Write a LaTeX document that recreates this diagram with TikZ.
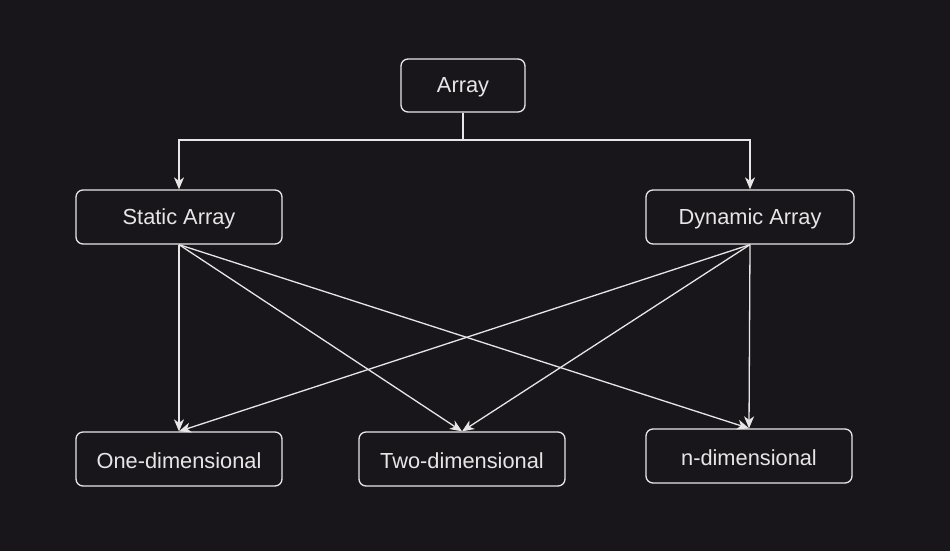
\documentclass[tikz,border=0pt]{standalone}
\usepackage{fontspec}
\setmainfont{Liberation Sans}
\usetikzlibrary{arrows.meta}
\definecolor{bg}{HTML}{18161B}
\definecolor{fg}{HTML}{E6E6E6}
\newcommand{\lowlbl}[1]{\raisebox{-2pt}[\height][\depth]{#1}}
\begin{document}
\begin{tikzpicture}[x=1pt,y=-1pt,
  box/.style={draw=fg,line width=1.3pt,rounded corners=7pt,fill=bg,text=fg,
    minimum height=54pt,inner sep=0pt,font=\fontsize{21.8}{25}\selectfont},
  conn/.style={draw=fg,line width=1.3pt,-{Stealth[length=12pt,width=10pt,inset=3.5pt]}}]
\fill[bg] (0,0) rectangle (950,551);
\useasboundingbox (0,0) rectangle (950,551);
\node[box,minimum width=124pt,minimum height=53pt] (arr) at (463,85.5) {\lowlbl{Array}};
\node[box,minimum width=206pt] (sta) at (179,217) {\lowlbl{Static Array}};
\node[box,minimum width=208pt] (dyn) at (750,217) {\lowlbl{Dynamic Array}};
\node[box,minimum width=206pt] (one) at (179,459) {\lowlbl{One-dimensional}};
\node[box,minimum width=206pt] (two) at (462,459) {\lowlbl{Two-dimensional}};
\node[box,minimum width=206pt] (nd) at (749,456) {\lowlbl{n-dimensional}};
\coordinate (j) at (463,140);
\draw[draw=fg,line width=1.3pt] (arr.south) -- (j);
\draw[conn] (j) -| (sta.north);
\draw[conn] (j) -| (dyn.north);
\draw[conn] (sta.south) -- (one.north);
\draw[conn] (sta.south) -- (two.north);
\draw[conn] (sta.south) -- (nd.north);
\draw[conn] (dyn.south) -- (one.north);
\draw[conn] (dyn.south) -- (two.north);
\draw[conn] (dyn.south) -- (nd.north);
\end{tikzpicture}
\end{document}
